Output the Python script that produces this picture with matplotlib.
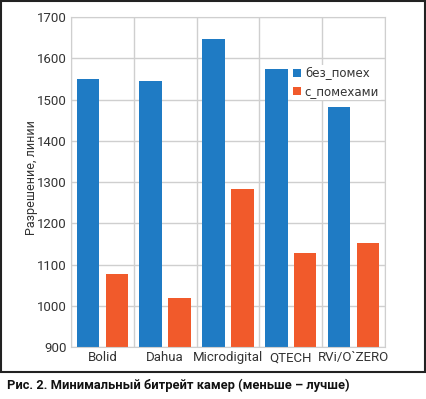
import matplotlib.pyplot as plt
import numpy as np
from matplotlib.patches import Rectangle

cameras = ["Bolid", "Dahua", "Microdigital", "QTECH", "RVi/O`ZERO"]
clean = [1550, 1544, 1646, 1574, 1483]
noisy = [1077, 1020, 1283, 1129, 1151]
yticks = [900, 1000, 1100, 1200, 1300, 1400, 1500, 1600, 1700]

BLUE = "#1f7bc4"
ORANGE = "#f15a2b"
GRID = "#cfcfcf"
FONT = "Roboto"

fig = plt.figure(figsize=(4.26, 3.99), dpi=100)
ax = fig.add_axes([0.1667, 0.1303, 0.7365, 0.827])

x = np.arange(len(cameras))
w = 0.36
ax.bar(x - 0.23, clean, w, color=BLUE, label="без_помех", zorder=2)
ax.bar(x + 0.23, noisy, w, color=ORANGE, label="с_помехами", zorder=2)

ax.set_xlim(-0.5, len(cameras) - 0.5)
ax.set_ylim(900, 1700)
ax.set_yticks(yticks)
ax.set_xticks(x)
ax.set_xticklabels(cameras)
# grid lines between the camera groups
ax.set_xticks(np.arange(len(cameras) + 1) - 0.5, minor=True)

ax.grid(True, axis="y", color=GRID, lw=1, zorder=0)
ax.grid(True, axis="x", which="minor", color=GRID, lw=1, zorder=0)
ax.tick_params(which="both", length=0)
ax.tick_params(axis="both", labelsize=9.5, labelcolor="#333333", pad=3)
for lab in ax.get_xticklabels() + ax.get_yticklabels():
    lab.set_fontfamily(FONT)

for s in ax.spines.values():
    s.set_color(GRID)

ax.set_ylabel("Разрешение, линии", fontsize=9, color="#333333", family=FONT)
ax.yaxis.set_label_coords(-0.105, 0.515)

leg = ax.legend(loc="upper left", bbox_to_anchor=(0.7, 0.855), frameon=True,
                fontsize=8.5, handlelength=0.7, handleheight=0.7, handletextpad=0.3,
                labelspacing=0.4, borderaxespad=0, borderpad=0.2)
leg.get_frame().set_edgecolor("none")
leg.get_frame().set_facecolor("white")
leg.get_frame().set_alpha(1)
for t in leg.get_texts():
    t.set_color("#333333")

# frame round the chart, caption below it
fig.patches.append(Rectangle((0.002, 0.068), 0.996, 0.93, transform=fig.transFigure,
                             fill=False, edgecolor="#222222", lw=1.5))

fig.text(0.017, 0.033, "Рис. 2. Минимальный битрейт камер (меньше – лучше)",
         fontsize=9.3, fontweight="bold", family=FONT, color="#111111",
         va="center", ha="left")

fig.savefig("out.png", dpi=100)
